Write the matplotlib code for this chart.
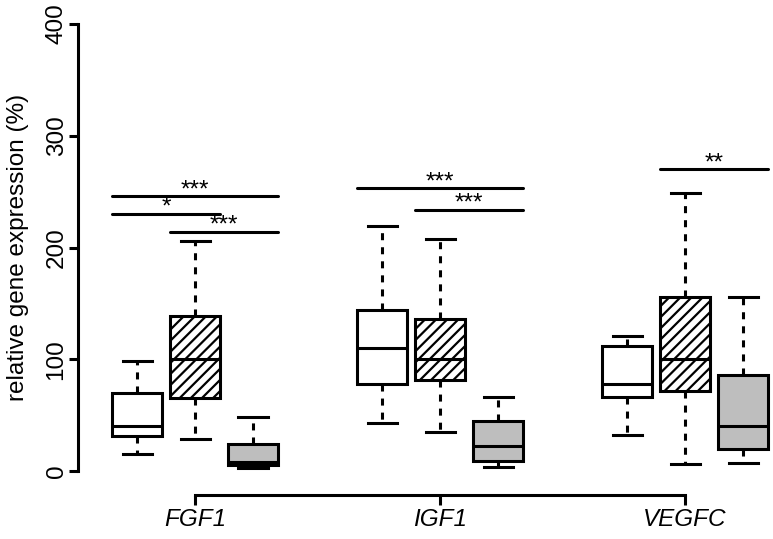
import matplotlib
matplotlib.use('Agg')
import matplotlib.pyplot as plt

genes = ['FGF1', 'IGF1', 'VEGFC']

# white boxes
white_lo = [15, 43, 32]
white_q1 = [31, 78, 66]
white_med = [40, 110, 78]
white_q3 = [70, 144, 112]
white_hi = [98, 219, 121]

# hatched boxes
hatch_lo = [29, 35, 6]
hatch_q1 = [65, 81, 72]
hatch_med = [100, 100, 100]
hatch_q3 = [139, 136, 156]
hatch_hi = [206, 208, 249]

# grey boxes
grey_lo = [2.5, 4, 7]
grey_q1 = [5.5, 9, 20]
grey_med = [8, 22, 40]
grey_q3 = [24, 45, 86]
grey_hi = [48, 66, 156]

# significance bars: gene, first box, last box, height, label
sig_gene = [0, 0, 0, 1, 1, 2]
sig_from = [0, 0, 1, 0, 1, 1]
sig_to = [2, 1, 2, 2, 2, 2]
sig_y = [246, 230, 214, 253, 234, 270]
sig_text = ['***', '*', '***', '***', '***', '**']

plt.rcParams['font.family'] = ['Liberation Sans', 'DejaVu Sans']
plt.rcParams['hatch.linewidth'] = 1.6
plt.rcParams['hatch.color'] = 'black'

W, H = 773, 539
fig = plt.figure(figsize=(W / 100, H / 100), dpi=100)
ax = fig.add_axes([78 / W, (H - 471) / H, (W - 78) / W, (471 - 24) / H])

step = 58 / 245
bw = 50 / 245
lw = 2.2

# spines first: set_position resets the tick labels
for s in ['top', 'right']:
    ax.spines[s].set_visible(False)
ax.spines['bottom'].set_position(('outward', 24 * 0.72))
ax.spines['left'].set_bounds(0, 400)
ax.spines['bottom'].set_bounds(1, 3)
for s in ['left', 'bottom']:
    ax.spines[s].set_linewidth(lw)

groups = [
    (white_lo, white_q1, white_med, white_q3, white_hi, 'white', None),
    (hatch_lo, hatch_q1, hatch_med, hatch_q3, hatch_hi, 'white', '///'),
    (grey_lo, grey_q1, grey_med, grey_q3, grey_hi, '#BEBEBE', None),
]

for k, (lo, q1, med, q3, hi, fc, hatch) in enumerate(groups):
    stats = []
    for i in range(len(genes)):
        stats.append(dict(whislo=lo[i], q1=q1[i], med=med[i], q3=q3[i], whishi=hi[i]))
    pos = [i + 1 + (k - 1) * step for i in range(len(genes))]
    bp = ax.bxp(stats, positions=pos, widths=bw, capwidths=29 / 245,
                showfliers=False, patch_artist=True, manage_ticks=False,
                boxprops=dict(facecolor=fc, edgecolor='black', linewidth=lw, hatch=hatch),
                whiskerprops=dict(color='black', linewidth=lw, linestyle=(0, (2.3, 2.3))),
                capprops=dict(color='black', linewidth=lw),
                medianprops=dict(color='black', linewidth=lw))
    for wh in bp['whiskers']:
        wh.set_dash_capstyle('butt')

for g, a, b, y, t in zip(sig_gene, sig_from, sig_to, sig_y, sig_text):
    x0 = g + 1 + (a - 1) * step - bw / 2
    x1 = g + 1 + (b - 1) * step + bw / 2
    ax.plot([x0, x1], [y, y], color='black', linewidth=lw, solid_capstyle='round', clip_on=False)
    ax.annotate(t, xy=((x0 + x1) / 2, y), xytext=(0, 0), textcoords='offset points',
                ha='center', va='baseline', fontsize=17.5)

ax.set_xlim(1 + (78 - 195) / 245, 1 + (773 - 195) / 245)
ax.set_ylim(0, 400)
ax.set_yticks([0, 100, 200, 300, 400])
ax.set_yticklabels(['0', '100', '200', '300', '400'], rotation=90, va='center', fontsize=17.5)
ax.set_xticks([1, 2, 3])
ax.set_xticklabels(genes, fontstyle='italic', fontsize=17.5)
ax.set_ylabel('relative gene expression (%)', fontsize=17.5)
ax.yaxis.label.set_va('center')
ax.yaxis.set_label_coords((18 - 78) / (W - 78), 0.5)

ax.tick_params(axis='y', length=6.5, width=lw, pad=1)
ax.tick_params(axis='x', length=7.2, width=lw, pad=2)
for art in ax.get_children():
    if hasattr(art, 'set_clip_on'):
        art.set_clip_on(False)
ax.patch.set_visible(False)

fig.savefig('out.png', dpi=100)
